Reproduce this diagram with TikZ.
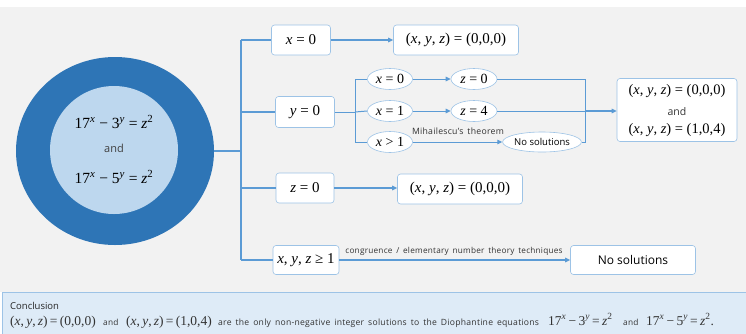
\documentclass[tikz,border=0pt]{standalone}
\usepackage[no-math]{fontspec}
\setmainfont{Open Sans}
\newfontfamily\tms{Liberation Serif}
\newfontfamily\lab{Open Sans}[LetterSpace=3, WordSpace=1.6]
\usetikzlibrary{shapes.geometric,arrows.meta}
\definecolor{dblue}{HTML}{2E75B6}
\definecolor{lblue}{HTML}{BDD7EE}
\definecolor{conn}{HTML}{5B9BD5}
\definecolor{bord}{HTML}{9DC3E6}
\definecolor{bg}{HTML}{F2F2F2}
\definecolor{cbg}{HTML}{DEEBF7}
\newcommand{\fs}[1]{\fontsize{#1}{#1}\selectfont}
\newcommand{\I}[1]{\textit{#1}}
\newcommand{\sps}[1]{\textsuperscript{#1}}
\newcommand{\xyz}{(\I{x}, \I{y}, \I{z})}
\begin{document}
\begin{tikzpicture}[x=1pt,y=-1pt,
  box/.style={draw=bord, line width=0.6pt, fill=white, rounded corners=3pt, inner sep=0pt, align=center},
  ell/.style={ellipse, draw=bord, line width=0.6pt, fill=white, inner sep=0pt, minimum width=45pt, minimum height=21pt},
  mainc/.style={draw=conn, line width=1.7pt},
  subc/.style={draw=conn, line width=1pt},
  tip/.style={-{Triangle[length=5pt,width=4.5pt]}},
  lbl/.style={inner sep=0pt, text=black!80},
  mth/.style={font=\tms}]
\useasboundingbox (0,0) rectangle (746,333);
\fill[bg] (0,7) rectangle (746,292);
% circle
\node[ellipse, fill=dblue, minimum width=198pt, minimum height=188pt, inner sep=0pt] (outer) at (115,151) {};
\node[circle, fill=lblue, minimum size=128pt, inner sep=0pt] (inner) at (114,150) {};
\node[mth] (eq1) at (114,122) {\fs{15.5}17\sps{\I{x}} − 3\sps{\I{y}} = \I{z}\sps{2}};
\node[text=black!75] (and1) at (114,148) {\fs{11}and};
\node[mth] (eq2) at (114,177) {\fs{15.5}17\sps{\I{x}} − 5\sps{\I{y}} = \I{z}\sps{2}};
% trunk
\coordinate (tc) at (241,151);
\coordinate (t1) at (241,40);
\coordinate (t4) at (241,260);
\coordinate (t2) at (241,112);
\coordinate (t3) at (241,188);
% boxes
\node[box, mth, minimum width=59pt, minimum height=30pt] (bx) at (301,40) {\fs{15}\I{x} = 0};
\node[box, mth, minimum width=125pt, minimum height=30pt] (rx) at (456,40) {\fs{15}\xyz\ = (0,0,0)};
\node[box, mth, minimum width=59pt, minimum height=31pt] (by) at (305,112) {\fs{15}\I{y} = 0};
\node[box, mth, minimum width=58pt, minimum height=30pt] (bz) at (305,188) {\fs{15}\I{z} = 0};
\node[box, mth, minimum width=125pt, minimum height=30pt] (rz) at (460,189) {\fs{15}\xyz\ = (0,0,0)};
\node[box, mth, minimum width=66pt, minimum height=29pt] (bxyz) at (306,260) {\fs{15}\I{x}, \I{y}, \I{z} ≥ 1};
\node[box, minimum width=125pt, minimum height=29pt] (rn) at (633,260) {\fs{12}No solutions};
% ellipses
\node[ell, mth] (e0) at (390,79) {\fs{14}\I{x} = 0};
\node[ell, mth] (e1) at (390,111) {\fs{14}\I{x} = 1};
\node[ell, mth] (e2) at (390,142) {\fs{14}\I{x} > 1};
\node[ell, mth, minimum width=46pt] (z0) at (474,79) {\fs{14}\I{z} = 0};
\node[ell, mth, minimum width=46pt] (z4) at (474,111) {\fs{14}\I{z} = 4};
\node[ell, minimum width=67pt, minimum height=20pt] (ns) at (542,142) {\fs{9.5}No solutions};
\node[box, minimum width=120pt, minimum height=63pt] (res) at (677,110) {};
\node[mth] (res1) at (677,91) {\fs{14.5}\xyz\ = (0,0,0)};
\node[text=black!80] (res2) at (677,112) {\fs{10.5}and};
\node[mth] (res3) at (677,130) {\fs{14.5}\xyz\ = (1,0,4)};
% connectors
\draw[mainc] (outer.east) -- (tc);
\draw[mainc] (t1) -- (t4);
\draw[mainc] (t1) -- (bx.west);
\draw[mainc] (t2) -- (by.west);
\draw[mainc] (t3) -- (bz.west);
\draw[mainc] (t4) -- (bxyz.west);
\draw[mainc, tip] (bx.east) -- (rx.west);
\draw[mainc, tip] (bz.east) -- (bz.east -| rz.west);
\draw[mainc, tip] (bxyz.east) -- (rn.west);
\node[lbl] (lc) at (454,251) {\lab\fs{8.2}congruence / elementary number theory techniques};
\coordinate (s0) at (355,112);
\coordinate (s1) at (355,79);
\coordinate (s2) at (355,142);
\draw[subc] (by.east) -- (s0);
\draw[subc] (s1) -- (s2);
\draw[subc] (s1) -- (e0.west);
\draw[subc] (s0) -- (e1.west);
\draw[subc] (s2) -- (e2.west);
\draw[subc, tip] (e0.east) -- (z0.west);
\draw[subc, tip] (e1.east) -- (z4.west);
\draw[subc, tip] (e2.east) -- (ns.west);
\node[lbl] (mh) at (458,131) {\lab\fs{8.7}Mihailescu’s theorem};
\coordinate (r1) at (585,79);
\coordinate (r2) at (585,111);
\coordinate (r3) at (585,142);
\draw[subc] (z0.east) -- (r1) -- (r3) -- (ns.east);
\draw[subc] (z4.east) -- (r2);
\draw[mainc, tip] (r2) -- (r2 -| res.west);
% conclusion
\node[draw=bord, fill=cbg, line width=0.6pt, minimum width=744pt, minimum height=44pt, inner sep=0pt] (cb) at (374.5,314) {};
\node[anchor=base west, lbl, text=black!85] (ct) at (10,309) {\fs{9.5}Conclusion};
\node[anchor=base west, lbl, mth] (c1) at (10,325) {\fs{13.5}(\I{x},\,\I{y},\,\I{z})\,=\,(0,0,0)};
\node[anchor=base west, lbl] (c2) at (103,325) {\lab\fs{8.3}and};
\node[anchor=base west, lbl, mth] (c3) at (126,325) {\fs{13.5}(\I{x},\,\I{y},\,\I{z})\,=\,(1,0,4)};
\node[anchor=base west, lbl] (c4) at (218,325) {\lab\fs{8.6}are the only non-negative integer solutions to the Diophantine equations};
\node[anchor=base west, lbl, mth] (c5) at (548,325) {\fs{13.5}17\sps{\I{x}}\,−\,3\sps{\I{y}}\,=\,\I{z}\sps{2}};
\node[anchor=base west, lbl] (c6) at (623,325) {\lab\fs{8.3}and};
\node[anchor=base west, lbl, mth] (c7) at (646,325) {\fs{13.5}17\sps{\I{x}}\,−\,5\sps{\I{y}}\,=\,\I{z}\sps{2}.};
\end{tikzpicture}
\end{document}
